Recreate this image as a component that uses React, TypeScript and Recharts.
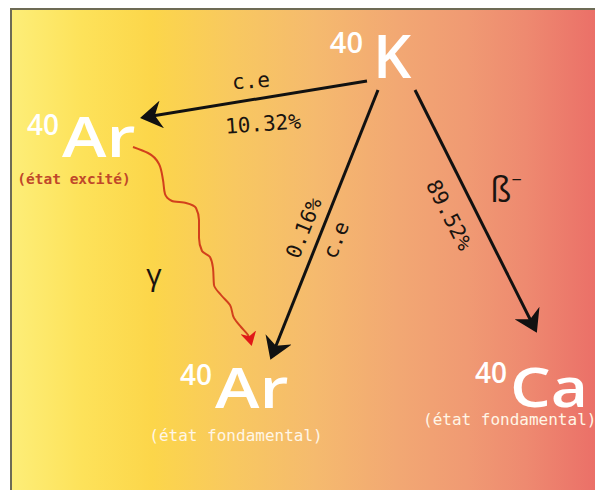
import React from 'react';
import { ComposedChart, Line, Scatter, XAxis, YAxis } from 'recharts';

// ---- content ----
const massNumbers = ['40', '40', '40', '40'];
const nuclides = ['K', 'Ar', 'Ar', 'Ca'];
const nuclideStates = ['', '(état excité)', '(état fondamental)', '(état fondamental)'];
const decayModes = ['c.e', 'c.e', 'ß'];
const branchRatios = [10.32, 0.16, 89.52];
const gammaLabel = 'γ';

// ---- layout (data space = pixel space) ----
const W = 595;
const H = 490;
const nuclideLayout = [
  { x: 373, y: 78, size: 60, sx: 1.0, supX: 363, supDy: -25, supSize: 29 },
  { x: 62, y: 157, size: 56, sx: 1.2, supX: 59, supDy: -22, supSize: 28 },
  { x: 215, y: 408, size: 56, sx: 1.2, supX: 212, supDy: -23, supSize: 28 },
  { x: 510, y: 407, size: 55, sx: 1.17, supX: 507, supDy: -24, supSize: 28 },
];
const stateLayout = [
  { x: 0, y: 0, anchor: 'middle', size: 14, color: '#fff' },
  { x: 74, y: 184, anchor: 'middle', size: 14.5, color: '#c0482a' },
  { x: 236, y: 441, anchor: 'middle', size: 16, color: '#fff6e6' },
  { x: 423, y: 425, anchor: 'start', size: 16, color: '#fff6e6' },
];
const modeLayout = [
  { x: 251, y: 81, rot: -4, size: 21 },
  { x: 336, y: 240, rot: -68, size: 21 },
  { x: 506, y: 189, rot: 0, size: 34 },
];
const ratioLayout = [
  { x: 263, y: 124, rot: -4, size: 21 },
  { x: 304, y: 228, rot: -68, size: 21 },
  { x: 449, y: 215, rot: 63, size: 21 },
];
const gammaLayout = { x: 154, y: 273, size: 30 };

const arrowPaths = [
  [{ x: 367, y: 81 }, { x: 143, y: 117.5 }],
  [{ x: 378, y: 90 }, { x: 271.5, y: 357 }],
  [{ x: 415, y: 90 }, { x: 535.5, y: 330 }],
];
const gammaWave = [
  { x: 133, y: 147 }, { x: 148, y: 153 }, { x: 159, y: 164 }, { x: 163, y: 180 },
  { x: 165, y: 194 }, { x: 172, y: 201 }, { x: 186, y: 203 }, { x: 196, y: 208 },
  { x: 199, y: 220 }, { x: 199, y: 238 }, { x: 202, y: 251 }, { x: 210, y: 257 },
  { x: 213, y: 268 }, { x: 214, y: 285 }, { x: 221, y: 295 }, { x: 230, y: 305 },
  { x: 234, y: 318 }, { x: 241, y: 327 }, { x: 248, y: 335 }, { x: 251, y: 343 },
];

const SANS = '"Open Sans", "Noto Sans", sans-serif';
const MONO = '"DejaVu Sans Mono", monospace';

const labelData = [
  ...nuclides.map((n, i) => ({ kind: 'nuclide', text: n, mass: massNumbers[i], ...nuclideLayout[i] })),
  ...nuclideStates.map((s, i) => ({ kind: 'state', text: s, ...stateLayout[i] })).filter((d) => d.text),
  ...decayModes.map((m, i) => ({ kind: i === 2 ? 'beta' : 'mode', text: m, ...modeLayout[i] })),
  ...branchRatios.map((r, i) => ({ kind: 'ratio', text: r.toFixed(2) + '%', ...ratioLayout[i] })),
  { kind: 'gamma', text: gammaLabel, ...gammaLayout },
];

const renderLabel = (props: any) => {
  const { cx, cy, payload: d } = props;
  if (d.kind === 'nuclide') {
    const supX = cx - (d.x - d.supX);
    return (
      <g>
        <text x={supX} y={cy + d.supDy} textAnchor="end" fill="#fff" fontFamily={SANS} fontWeight={600} fontSize={d.supSize}>
          {d.mass}
        </text>
        <text
          x={0}
          y={0}
          transform={`translate(${cx} ${cy}) scale(${d.sx} 1)`}
          fill="#fff"
          fontFamily={SANS}
          fontWeight={600}
          fontSize={d.size}
        >
          {d.text}
        </text>
      </g>
    );
  }
  if (d.kind === 'state') {
    return (
      <text x={cx} y={cy} textAnchor={d.anchor} fill={d.color} fontFamily={MONO} fontWeight={d.color === '#c0482a' ? 700 : 400} fontSize={d.size}>
        {d.text}
      </text>
    );
  }
  if (d.kind === 'beta') {
    return (
      <text x={cx} y={cy} textAnchor="middle" dominantBaseline="central" fill="#1a1410" fontFamily={SANS} fontSize={d.size}>
        {d.text}
        <tspan fontSize={18} dy={-10}>−</tspan>
      </text>
    );
  }
  if (d.kind === 'gamma') {
    return (
      <text x={cx} y={cy} textAnchor="middle" dominantBaseline="central" fill="#1a1410" fontFamily={SANS} fontSize={d.size}>
        {d.text}
      </text>
    );
  }
  return (
    <text
      x={cx}
      y={cy}
      textAnchor="middle"
      dominantBaseline="central"
      fill="#1a1410"
      fontFamily={MONO}
      fontSize={d.size}
      transform={`rotate(${d.rot} ${cx} ${cy})`}
    >
      {d.text}
    </text>
  );
};

export default function App() {
  return (
    <div style={{ position: 'absolute', left: 0, top: 0, width: W, height: H, background: '#fff' }}>
      <div
        style={{
          position: 'absolute',
          left: 10,
          top: 8,
          width: W - 10,
          height: H - 8,
          boxSizing: 'border-box',
          borderLeft: '2px solid #6d6b55',
          borderTop: '2px solid #6d6b55',
          background:
            'linear-gradient(to right, #fdee78 0%, #fde25a 12%, #fcd64a 24%, #f8c860 38%, #f5ba6e 52%, #f2a873 66%, #f09a73 78%, #ee8a70 88%, #eb7068 100%)',
        }}
      />
      <div style={{ position: 'absolute', left: 0, top: 0 }}>
        <ComposedChart width={W} height={H} margin={{ top: 0, right: 0, bottom: 0, left: 0 }}>
          <defs>
            <marker id="headBlack" viewBox="0 0 22 28" markerWidth={22} markerHeight={28} refX={19} refY={14} orient="auto" markerUnits="userSpaceOnUse">
              <path d="M0,0 L22,14 L0,28 L7,14 Z" fill="#111" />
            </marker>
            <marker id="headRed" viewBox="0 0 14 16" markerWidth={14} markerHeight={16} refX={11} refY={8} orient="auto" markerUnits="userSpaceOnUse">
              <path d="M0,0 L14,8 L0,16 L4,8 Z" fill="#e01818" />
            </marker>
          </defs>
          <XAxis type="number" dataKey="x" domain={[0, W]} hide allowDataOverflow />
          <YAxis type="number" dataKey="y" domain={[0, H]} reversed hide allowDataOverflow />
          <Line
            data={gammaWave}
            dataKey="y"
            type="monotoneY"
            stroke="#d2401c"
            strokeWidth={2}
            dot={false}
            activeDot={false}
            isAnimationActive={false}
            markerEnd="url(#headRed)"
          />
          {arrowPaths.map((p, i) => (
            <Line
              key={i}
              data={p}
              dataKey="y"
              type="linear"
              stroke="#111"
              strokeWidth={3}
              dot={false}
              activeDot={false}
              isAnimationActive={false}
              markerEnd="url(#headBlack)"
            />
          ))}
          <Scatter data={labelData} dataKey="y" shape={renderLabel} isAnimationActive={false} />
        </ComposedChart>
      </div>
    </div>
  );
}
